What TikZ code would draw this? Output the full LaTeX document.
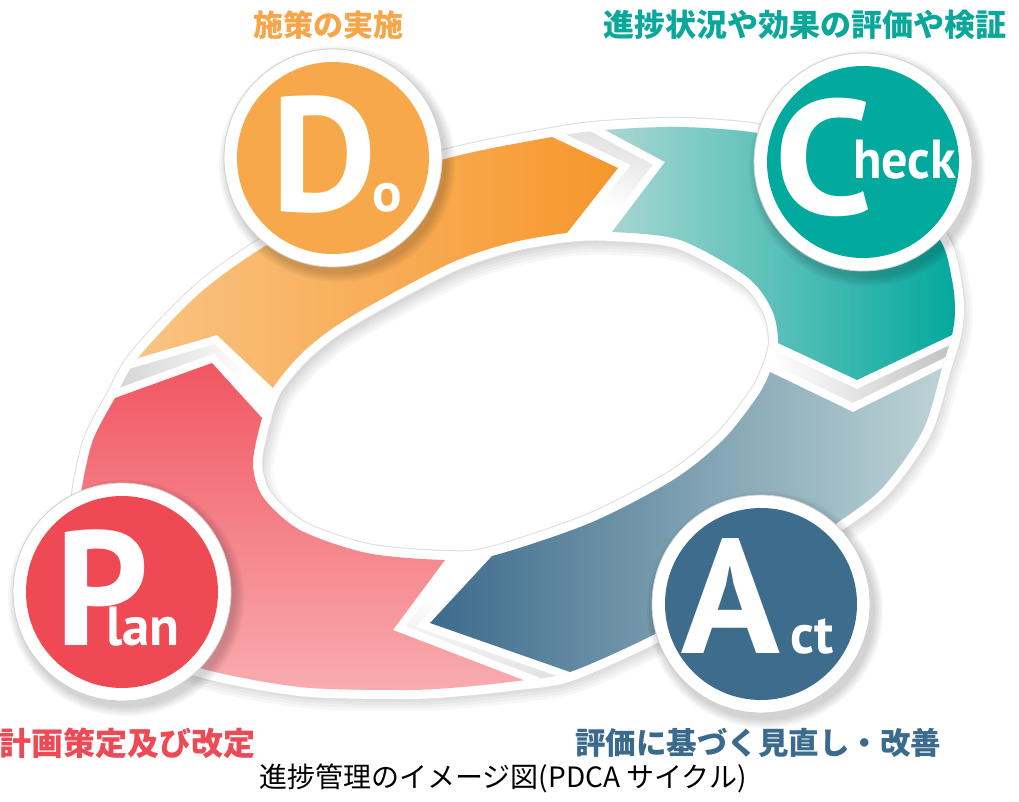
\documentclass[tikz,border=0pt]{standalone}
\usepackage{fontspec}
\newfontfamily\jp{Noto Sans CJK JP}
\newfontfamily\lat{PT Sans}
\usetikzlibrary{calc}
\definecolor{doL}{HTML}{FAC88C}
\definecolor{doR}{HTML}{F6962A}
\definecolor{chL}{HTML}{ACD7D3}
\definecolor{chR}{HTML}{02A89D}
\definecolor{acL}{HTML}{3C6A8B}
\definecolor{acR}{HTML}{C0D7D8}
\definecolor{plT}{HTML}{F04E5A}
\definecolor{plB}{HTML}{F9AEB1}
\definecolor{doC}{HTML}{F7A84B}
\definecolor{chC}{HTML}{02A99D}
\definecolor{acC}{HTML}{3D6C8C}
\definecolor{plC}{HTML}{EF4A54}
\definecolor{doT}{HTML}{F7A548}
\definecolor{chT}{HTML}{0CA79B}
\definecolor{acT}{HTML}{3B6B8C}
\definecolor{plT2}{HTML}{EE4A55}
\pgfdeclareradialshading{gapfade}{\pgfpoint{0bp}{0bp}}{color(0bp)=(white); color(13bp)=(white); color(25bp)=(black!32); color(50bp)=(black!32)}
\newcommand{\sm}[1]{{\fontsize{55}{55}\selectfont #1}}
\tikzset{
  letters/.style={anchor=base west, inner sep=0, text=white, font=\lat\bfseries\fontsize{163}{163}\selectfont},
  label/.style={inner sep=0, font=\jp\bfseries\fontsize{#1}{#1}\selectfont},
  whitering/.style={fill=white, draw=black!18, line width=0.8},
}
\def\outerpath{plot[smooth cycle, tension=0.5] coordinates {(81,510) (82,487) (93,440) (115,398) (138,358) (200,293) (267,245) (355,199) (442,160) (552,137) (605,130) (680,127) (757,133) (830,152) (895,193) (940,240) (952,280) (955,310) (952,335) (942,368) (923,430) (883,487) (837,523) (750,580) (657,633) (570,672) (518,681) (450,688) (400,690) (300,687) (200,668) (140,640) (102,600) (84,550)}}
\def\innerpath{plot[smooth cycle, tension=0.5] coordinates {(253,463) (262,418) (273,388) (300,355) (333,328) (380,300) (453,262) (510,243) (567,233) (612,232) (680,240) (747,277) (772,310) (778,343) (770,372) (757,397) (723,440) (673,480) (590,523) (492,556) (445,560) (367,553) (300,530) (263,497)}}
\begin{document}
\begin{tikzpicture}[x=1pt,y=-1pt]
\path[fill=white] (0,0) rectangle (1019,802);
\useasboundingbox (0,0) rectangle (1019,802);
% arrow corner points
\coordinate (dN) at (217,335); \coordinate (dTo) at (138,358); \coordinate (dTi) at (273,388);
\coordinate (dHi) at (567,233); \coordinate (dH) at (618,168); \coordinate (dHo) at (552,137);
\coordinate (cN) at (665,162); \coordinate (cTo) at (605,130); \coordinate (cTi) at (612,232);
\coordinate (cHi) at (778,343); \coordinate (cH) at (857,380); \coordinate (cHo) at (952,335);
\coordinate (aN) at (853,412); \coordinate (aTo) at (942,368); \coordinate (aTi) at (770,372);
\coordinate (aHi) at (492,556); \coordinate (aH) at (430,623); \coordinate (aHo) at (570,672);
\coordinate (pN) at (393,630); \coordinate (pTo) at (518,678); \coordinate (pTi) at (445,560);
\coordinate (pHi) at (262,418); \coordinate (pH) at (212,363); \coordinate (pHo) at (115,398);
\coordinate (cd) at (333,158); \coordinate (cc) at (863,162);
\coordinate (ca) at (761,604); \coordinate (cp) at (122,592);
% soft shadow of the ring (outside and inside the hole)
\foreach \w in {4,10,16,22,28}{
  \draw[black, opacity=0.03, line width=\w, shift={(4,7)}] \outerpath;
}
\begin{scope}
  \clip \innerpath;
  \foreach \w in {6,12,18,24,30}{
    \draw[black, opacity=0.03, line width=\w, shift={(5,8)}] \innerpath;
  }
\end{scope}
% white outline of the ring
\filldraw[fill=white, draw=black!13, line width=20, even odd rule] \outerpath \innerpath;
\draw[white, line width=18] \outerpath \innerpath;
% arrows
\begin{scope}[even odd rule]
  \clip \outerpath \innerpath;
  \shade[shading=gapfade] (0,0) rectangle (1019,802);
  % Do
  \def\dopoly{($(dN)!1.6!(dTo)$) -- (dN) -- ($(dN)!1.6!(dTi)$) -- ($(dH)!1.6!(dHi)$) -- (dH) -- ($(dH)!1.6!(dHo)$) -- (505,-60) -- (-60,-60) -- (-60,380) -- cycle}
  \filldraw[white, line width=16, line join=miter, nonzero rule] \dopoly;
  \begin{scope}[nonzero rule]\clip \dopoly; \shade[left color=doL, right color=doR] (90,100) rectangle (625,420);\end{scope}
  % Check
  \def\chpoly{($(cN)!1.6!(cTo)$) -- (cN) -- ($(cN)!1.6!(cTi)$) -- ($(cH)!1.6!(cHi)$) -- (cH) -- ($(cH)!1.6!(cHo)$) -- (1100,308) -- (1100,-60) -- (569,-60) -- cycle}
  \filldraw[white, line width=16, line join=miter, nonzero rule] \chpoly;
  \begin{scope}[nonzero rule]\clip \chpoly; \shade[left color=chL, right color=chR] (600,100) rectangle (960,390);\end{scope}
  % Act
  \def\acpoly{($(aN)!1.6!(aTo)$) -- (aN) -- ($(aN)!1.6!(aTi)$) -- ($(aH)!1.6!(aHi)$) -- (aH) -- ($(aH)!1.6!(aHo)$) -- (654,860) -- (1100,860) -- (1100,341) -- cycle}
  \filldraw[white, line width=16, line join=miter, nonzero rule] \acpoly;
  \begin{scope}[nonzero rule]\clip \acpoly; \shade[left color=acL, right color=acR] (425,330) rectangle (960,700);\end{scope}
  % Plan
  \def\plpoly{($(pN)!1.6!(pTo)$) -- (pN) -- ($(pN)!1.6!(pTi)$) -- ($(pH)!1.6!(pHi)$) -- (pH) -- ($(pH)!1.6!(pHo)$) -- (-60,419) -- (-60,860) -- (593,860) -- cycle}
  \filldraw[white, line width=16, line join=miter, nonzero rule] \plpoly;
  \begin{scope}[nonzero rule]\clip \plpoly; \shade[top color=plT, bottom color=plB] (60,330) rectangle (600,700);\end{scope}
\end{scope}
% circles
\foreach \n/\c in {cd/doC, cc/chC, ca/acC, cp/plC}{
  \foreach \r in {110,112,114,116,118}{
    \fill[black, opacity=0.035] ($(\n)+(4,6)$) circle[radius=\r];
  }
  \filldraw[whitering] (\n) circle[radius=109];
  \fill[\c] (\n) circle[radius=96];
}
\node[letters] (tD) at (271,212) {\rlap{D}\kern101pt\sm{o}};
\node[letters] (tC) at (774,215) {\rlap{\scalebox{1.08}[1]{C}}\kern79pt\raisebox{36pt}{\scalebox{0.95}[1]{\sm{heck}}}};
\node[letters] (tA) at (681,653) {\rlap{A}\kern109pt\sm{ct}};
\node[letters] (tP) at (55,645) {\rlap{P}\kern51pt\sm{lan}};
% labels
\node[label=30, text=doT] (ldo) at (328,25) {施策の実施};
\node[label=31, text=chT] (lch) at (805,25) {進捗状況や効果の評価や検証};
\node[label=32, text=plT2] (lpl) at (127,743) {計画策定及び改定};
\node[label=30.5, text=acT] (lac) at (758,743) {評価に基づく見直し・改善};
\node[inner sep=0, font=\jp\fontsize{28}{28}\selectfont] (cap) at (503,778) {進捗管理のイメージ図(PDCA サイクル)};
\end{tikzpicture}
\end{document}
